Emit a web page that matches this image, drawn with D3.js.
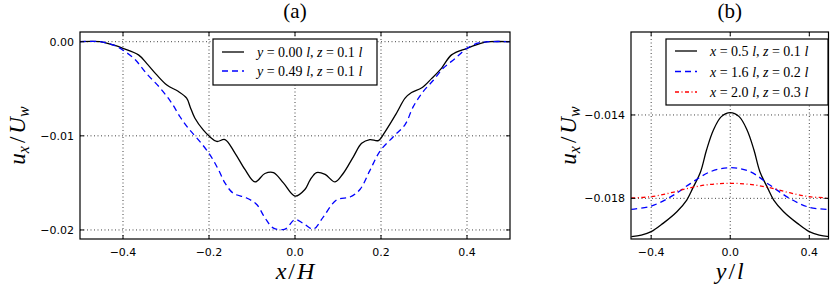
<!DOCTYPE html>
<html>
<head>
<meta charset="utf-8">
<script src="https://cdn.jsdelivr.net/npm/d3@7"></script>
<style>
  body { margin: 0; background: #fff; }
  svg { display: block; }
  .tick-label { font-family: "DejaVu Sans", sans-serif; font-size: 11px; fill: #000; }
  .math { font-family: "Liberation Serif", "DejaVu Serif", serif; font-style: italic; fill: #000; }
  .title { font-family: "Liberation Serif", "DejaVu Serif", serif; font-size: 21px; fill: #000; }
</style>
</head>
<body>
<svg width="830" height="285"></svg>
<script>
// panel (a): streamwise velocity across x/H
let aSolidX = [-0.5, -0.453, -0.4225, -0.4, -0.364, -0.345, -0.322, -0.298, -0.271, -0.252,
    -0.244, -0.233, -0.213, -0.198, -0.182, -0.163, -0.14, -0.116, -0.093, -0.07,
    -0.05, -0.027, 0, 0.023, 0.035, 0.05, 0.07, 0.093, 0.112, 0.136,
    0.155, 0.174, 0.194, 0.209, 0.236, 0.256, 0.271, 0.295, 0.318, 0.341,
    0.364, 0.4, 0.438, 0.453, 0.5];
let aSolidY = [0, 0, -0.00035, -0.0007, -0.0014, -0.0023, -0.0035, -0.0046, -0.0053, -0.006,
    -0.0069, -0.0081, -0.0094, -0.0101, -0.0106, -0.0104, -0.0118, -0.0136, -0.0149, -0.014,
    -0.0139, -0.015, -0.0164, -0.0157, -0.0147, -0.0139, -0.0141, -0.0149, -0.014, -0.0122,
    -0.0108, -0.0104, -0.0105, -0.0096, -0.0076, -0.006, -0.0054, -0.0049, -0.0039, -0.0028,
    -0.0014, -0.0007, -0.0001, 0, 0];
let aDashX = [-0.5, -0.453, -0.42, -0.4, -0.372, -0.345, -0.314, -0.287, -0.267, -0.248,
    -0.225, -0.198, -0.178, -0.163, -0.1435, -0.1125, -0.089, -0.07, -0.05, -0.023,
    0, 0.019, 0.0426, 0.066, 0.097, 0.128, 0.151, 0.174, 0.198, 0.2286,
    0.256, 0.275, 0.298, 0.3217, 0.345, 0.372, 0.4, 0.43, 0.5];
let aDashY = [0, 0, -0.0004, -0.0009, -0.0019, -0.0034, -0.0049, -0.0065, -0.008, -0.0092,
    -0.0104, -0.012, -0.0136, -0.015, -0.0161, -0.0166, -0.0173, -0.0187, -0.0198, -0.0199,
    -0.0189, -0.0193, -0.0199, -0.0186, -0.0168, -0.0165, -0.0157, -0.0137, -0.0116, -0.0101,
    -0.0088, -0.0069, -0.0053, -0.0041, -0.0028, -0.0018, -0.0007, -0.0001, 0];
let aXTicks = [-0.4, -0.2, 0, 0.2, 0.4];
let aYTicks = [0, -0.01, -0.02];
let aLegend = [["y", " = 0.00 ", "l", ", ", "z", " = 0.1 ", "l"],
               ["y", " = 0.49 ", "l", ", ", "z", " = 0.1 ", "l"]];

// panel (b): spanwise profiles across y/l
let bSolidX = [-0.5, -0.45, -0.4, -0.34, -0.27, -0.22, -0.19, -0.15, -0.12, -0.085, -0.045, 0,
    0.045, 0.085, 0.12, 0.15, 0.19, 0.22, 0.27, 0.34, 0.4, 0.45, 0.5];
let bSolidY = [-0.01984, -0.01976, -0.0196, -0.0192, -0.01864, -0.01808, -0.01752, -0.01672, -0.01568, -0.01472, -0.01408, -0.01389,
    -0.01408, -0.01472, -0.01568, -0.01672, -0.01752, -0.01808, -0.01864, -0.0192, -0.0196, -0.01976, -0.01984];
let bOtherX = [-0.5, -0.4, -0.3, -0.2, -0.1, 0, 0.1, 0.2, 0.3, 0.4, 0.5];
let bDashY = [-0.01853, -0.01837, -0.01792, -0.01728, -0.01672, -0.01653, -0.01672, -0.01736, -0.018, -0.01843, -0.01853];
let bDotY = [-0.01798, -0.01792, -0.01773, -0.01749, -0.01733, -0.01728, -0.01733, -0.01749, -0.01773, -0.01792, -0.01798];
let bXTicks = [-0.4, 0, 0.4];
let bYTicks = [-0.014, -0.018];
let bLegend = [["x", " = 0.5 ", "l", ", ", "z", " = 0.1 ", "l"],
               ["x", " = 1.6 ", "l", ", ", "z", " = 0.2 ", "l"],
               ["x", " = 2.0 ", "l", ", ", "z", " = 0.3 ", "l"]];

let svg = d3.select("svg");
let minus = s => s.replace("-", "\u2212");

function panel(cfg) {
    let x = d3.scaleLinear().domain(cfg.xDomain).range([cfg.left, cfg.right]);
    let y = d3.scaleLinear().domain(cfg.yDomain).range([cfg.bottom, cfg.top]);
    let g = svg.append("g");

    g.append("clipPath").attr("id", cfg.id)
      .append("rect")
        .attr("x", cfg.left).attr("y", cfg.top)
        .attr("width", cfg.right - cfg.left).attr("height", cfg.bottom - cfg.top);

    // dotted grid
    g.selectAll(".gx").data(cfg.xTicks).enter().append("line")
        .attr("x1", d => x(d)).attr("x2", d => x(d))
        .attr("y1", cfg.top).attr("y2", cfg.bottom)
        .attr("stroke", "#111").attr("stroke-width", 0.8).attr("stroke-dasharray", "1,2.5");
    g.selectAll(".gy").data(cfg.yTicks).enter().append("line")
        .attr("y1", d => y(d)).attr("y2", d => y(d))
        .attr("x1", cfg.left).attr("x2", cfg.right)
        .attr("stroke", "#111").attr("stroke-width", 0.8).attr("stroke-dasharray", "1,2.5");

    // curves
    let line = d3.line().curve(d3.curveCatmullRom.alpha(0.5));
    let lines = g.append("g").attr("clip-path", "url(#" + cfg.id + ")");
    cfg.series.forEach(s => {
        lines.append("path")
            .attr("d", line(s.xs.map((v, i) => [x(v), y(s.ys[i])])))
            .attr("fill", "none")
            .attr("stroke", s.color)
            .attr("stroke-width", 1.3)
            .attr("stroke-dasharray", s.dash);
    });

    // ticks pointing inward on all four sides
    let tl = 4;
    cfg.xTicks.forEach(d => {
        g.append("line").attr("x1", x(d)).attr("x2", x(d)).attr("y1", cfg.bottom).attr("y2", cfg.bottom - tl).attr("stroke", "#000");
        g.append("line").attr("x1", x(d)).attr("x2", x(d)).attr("y1", cfg.top).attr("y2", cfg.top + tl).attr("stroke", "#000");
    });
    cfg.yTicks.forEach(d => {
        g.append("line").attr("y1", y(d)).attr("y2", y(d)).attr("x1", cfg.left).attr("x2", cfg.left + tl).attr("stroke", "#000");
        g.append("line").attr("y1", y(d)).attr("y2", y(d)).attr("x1", cfg.right).attr("x2", cfg.right - tl).attr("stroke", "#000");
    });

    g.selectAll(".xl").data(cfg.xTicks).enter().append("text")
        .classed("tick-label", true)
        .attr("x", d => x(d)).attr("y", cfg.bottom + 17)
        .attr("text-anchor", "middle")
        .text(d => minus(d3.format(".1f")(d)));
    g.selectAll(".yl").data(cfg.yTicks).enter().append("text")
        .classed("tick-label", true)
        .attr("x", cfg.left - 6).attr("y", d => y(d) + 4)
        .attr("text-anchor", "end")
        .text(d => minus(d3.format(cfg.yFormat)(d)));

    // frame
    g.append("rect")
        .attr("x", cfg.left).attr("y", cfg.top)
        .attr("width", cfg.right - cfg.left).attr("height", cfg.bottom - cfg.top)
        .attr("fill", "none").attr("stroke", "#000").attr("stroke-width", 1.2);

    // title and axis labels
    g.append("text").classed("title", true)
        .attr("x", (cfg.left + cfg.right) / 2).attr("y", 18)
        .attr("text-anchor", "middle").text(cfg.title);

    let xl = g.append("text").classed("math", true)
        .attr("x", (cfg.left + cfg.right) / 2).attr("y", 279)
        .attr("text-anchor", "middle").style("font-size", "24px");
    xl.append("tspan").text(cfg.xLabel[0]);
    xl.append("tspan").attr("dx", 2).style("font-style", "normal").text("/");
    xl.append("tspan").attr("dx", 2).text(cfg.xLabel[1]);

    let yc = (cfg.top + cfg.bottom) / 2;
    let yl = g.append("text").classed("math", true)
        .attr("transform", "translate(" + cfg.yLabelX + "," + yc + ") rotate(-90)")
        .attr("text-anchor", "middle").style("font-size", "23px");
    yl.append("tspan").text("u");
    yl.append("tspan").attr("dy", 4).style("font-size", "16px").text("x");
    yl.append("tspan").attr("dy", -4).attr("dx", 3).style("font-style", "normal").text("/");
    yl.append("tspan").attr("dx", 3).text("U");
    yl.append("tspan").attr("dy", 4).style("font-size", "16px").text("w");

    // legend
    let lg = cfg.legend;
    g.append("rect")
        .attr("x", lg.x).attr("y", lg.y).attr("width", lg.w).attr("height", lg.h)
        .attr("fill", "#fff").attr("stroke", "#000").attr("stroke-width", 1.2);
    lg.items.forEach((parts, i) => {
        let s = cfg.series[i];
        let ly = lg.y + lg.first + i * lg.step;
        g.append("line")
            .attr("x1", lg.x + 9).attr("x2", lg.x + 31).attr("y1", ly).attr("y2", ly)
            .attr("stroke", s.color).attr("stroke-width", 1.3).attr("stroke-dasharray", s.dash);
        let t = g.append("text").classed("math", true)
            .attr("x", lg.x + 44).attr("y", ly + 5).style("font-size", "14px");
        parts.forEach((p, j) => {
            t.append("tspan").style("font-style", j % 2 === 0 ? "italic" : "normal").text(p);
        });
    });
}

panel({
    id: "clipA", left: 80, right: 510, top: 32, bottom: 239,
    xDomain: [-0.5, 0.5], yDomain: [-0.02096, 0.00103],
    xTicks: aXTicks, yTicks: aYTicks, yFormat: ".2f",
    title: "(a)", xLabel: ["x", "H"], yLabelX: 25,
    series: [
        { xs: aSolidX, ys: aSolidY, color: "#000", dash: null },
        { xs: aDashX, ys: aDashY, color: "#0000ff", dash: "6,4" }
    ],
    legend: { x: 213, y: 39, w: 164, h: 46, first: 13, step: 19, items: aLegend }
});

panel({
    id: "clipB", left: 631, right: 828.5, top: 32, bottom: 239,
    xDomain: [-0.502, 0.497], yDomain: [-0.01995, -0.01002],
    xTicks: bXTicks, yTicks: bYTicks, yFormat: ".3f",
    title: "(b)", xLabel: ["y", "l"], yLabelX: 576,
    series: [
        { xs: bSolidX, ys: bSolidY, color: "#000", dash: null },
        { xs: bOtherX, ys: bDashY, color: "#0000ff", dash: "6,4" },
        { xs: bOtherX, ys: bDotY, color: "#ff0000", dash: "4,2.5,1,2.5" }
    ],
    legend: { x: 666, y: 39, w: 162, h: 66, first: 12, step: 20.5, items: bLegend }
});
</script>
</body>
</html>
